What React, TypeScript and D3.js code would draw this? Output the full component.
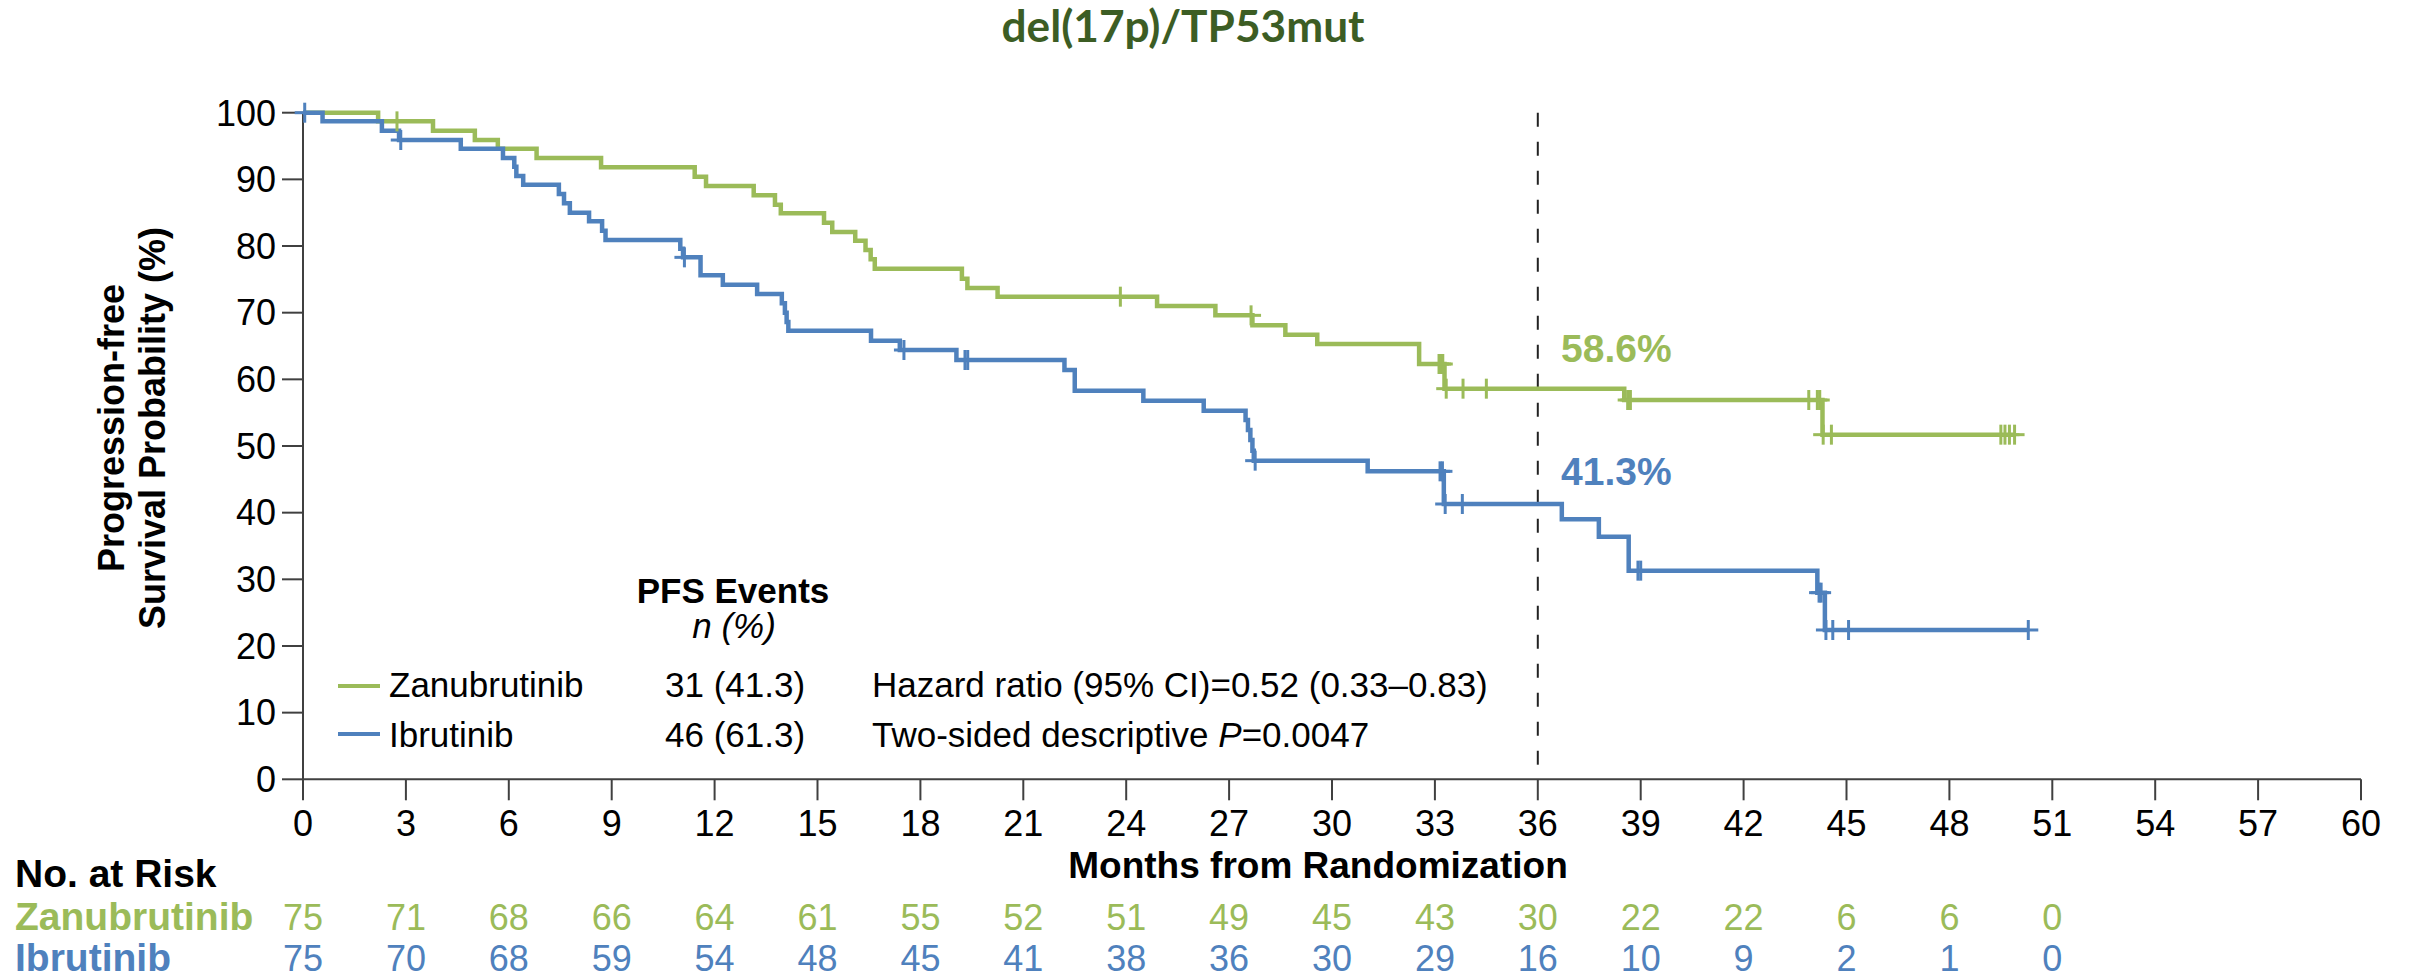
import React from "react";
import * as d3 from "d3";

// ---------- data ----------
const zanTimes = [0, 2.19, 3.79, 5.01, 5.68, 6.81, 8.69, 11.42, 11.75, 13.14, 13.76, 13.93, 15.19, 15.43, 16.1, 16.4, 16.55, 16.67, 19.21, 19.37, 20.25, 24.9, 26.6, 27.68, 28.64, 29.57, 32.54, 33.28, 38.52, 44.3];
const zanSurv = [100, 98.7, 97.3, 95.9, 94.6, 93.2, 91.8, 90.4, 89.0, 87.6, 86.2, 84.9, 83.5, 82.1, 80.8, 79.4, 78.0, 76.6, 75.1, 73.7, 72.4, 71.0, 69.6, 68.1, 66.7, 65.3, 62.3, 58.6, 56.9, 51.7];
const zanCensor = [2.74, 23.83, 27.64, 33.12, 33.18, 33.23, 33.33, 33.82, 34.5, 38.62, 38.7, 43.9, 44.15, 44.22, 44.32, 44.56, 49.5, 49.62, 49.75, 49.9];

const ibrTimes = [0, 0.57, 2.3, 2.8, 4.6, 5.83, 6.16, 6.22, 6.42, 7.46, 7.61, 7.78, 8.34, 8.72, 8.82, 11.0, 11.08, 11.59, 12.24, 13.24, 13.96, 14.05, 14.1, 14.15, 16.56, 17.4, 19.05, 22.2, 22.5, 24.5, 26.26, 27.48, 27.55, 27.62, 27.68, 27.72, 31.04, 33.26, 36.7, 37.78, 38.65, 44.15, 44.37];
const ibrSurv = [100, 98.7, 97.3, 95.9, 94.6, 93.2, 91.9, 90.5, 89.2, 87.8, 86.4, 85.0, 83.7, 82.3, 80.9, 79.6, 78.3, 75.6, 74.2, 72.8, 71.4, 70.0, 68.6, 67.3, 65.8, 64.4, 62.9, 61.4, 58.3, 56.8, 55.3, 53.9, 52.4, 50.9, 49.3, 47.8, 46.2, 41.3, 39.0, 36.4, 31.3, 28.0, 22.4];
const ibrCensor = [0.05, 2.85, 11.12, 17.52, 19.3, 19.38, 27.76, 33.15, 33.22, 33.3, 33.8, 38.92, 39.0, 44.2, 44.26, 44.4, 44.6, 45.06, 50.3];

const riskMonths = [0, 3, 6, 9, 12, 15, 18, 21, 24, 27, 30, 33, 36, 39, 42, 45, 48, 51];
const zanRisk = [75, 71, 68, 66, 64, 61, 55, 52, 51, 49, 45, 43, 30, 22, 22, 6, 6, 0];
const ibrRisk = [75, 70, 68, 59, 54, 48, 45, 41, 38, 36, 30, 29, 16, 10, 9, 2, 1, 0];

const xTicks = d3.range(0, 61, 3);
const yTicks = d3.range(0, 101, 10);

const GREEN = "#9BBB59";
const BLUE = "#4F81BD";
const AXIS = "#404040";
const FONT = "'Liberation Sans', Arial, Helvetica, sans-serif";

function stepAt(times: number[], surv: number[], t: number) {
  let v = surv[0];
  for (let i = 0; i < times.length; i++) if (times[i] <= t) v = surv[i];
  return v;
}

export default function App() {
  const x = d3.scaleLinear().domain([0, 60]).range([303, 2361]);
  const y = d3.scaleLinear().domain([0, 100]).range([779.3, 112.7]);

  const line = d3
    .line<[number, number]>()
    .x((d) => x(d[0]))
    .y((d) => y(d[1]))
    .curve(d3.curveStepAfter);

  const series = [
    { times: zanTimes, surv: zanSurv, censor: zanCensor, color: GREEN },
    { times: ibrTimes, surv: ibrSurv, censor: ibrCensor, color: BLUE },
  ];

  const paths = series.map((s) => {
    const pts: [number, number][] = s.times.map((t, i) => [t, s.surv[i]]);
    const end = Math.max(...s.censor, ...s.times);
    pts.push([end, stepAt(s.times, s.surv, end)]);
    return { d: line(pts) || "", color: s.color, s };
  });

  return (
    <div>
      <style>{`body{margin:0;}`}</style>
      <svg width={2410} height={978} style={{ display: "block", background: "#fff" }} fontFamily={FONT}>
        {/* title */}
        <text x={1183} y={42} textAnchor="middle" fontFamily="Lato, 'Open Sans', sans-serif" fontWeight={700} fontSize={44} fill="#3C5D24" textLength={363} lengthAdjust="spacingAndGlyphs">
          del(17p)/TP53mut
        </text>

        {/* y axis */}
        <line x1={x(0)} x2={x(0)} y1={y(100)} y2={y(0)} stroke={AXIS} strokeWidth={2} />
        {yTicks.map((t) => (
          <g key={"y" + t}>
            <line x1={x(0) - 21} x2={x(0)} y1={y(t)} y2={y(t)} stroke={AXIS} strokeWidth={2} />
            <text x={276} y={y(t) + 12.8} textAnchor="end" fontSize={36} fill="#000">
              {t}
            </text>
          </g>
        ))}
        {/* x axis */}
        <line x1={x(0)} x2={x(60)} y1={y(0)} y2={y(0)} stroke={AXIS} strokeWidth={2} />
        {xTicks.map((t) => (
          <g key={"x" + t}>
            <line x1={x(t)} x2={x(t)} y1={y(0)} y2={y(0) + 21} stroke={AXIS} strokeWidth={2} />
            <text x={x(t)} y={836} textAnchor="middle" fontSize={36} fill="#000">
              {t}
            </text>
          </g>
        ))}

        {/* axis titles */}
        <g fontWeight={700} fontSize={36} fill="#000">
          <text transform={`translate(124,428) rotate(-90)`} textAnchor="middle">
            Progression-free
          </text>
          <text transform={`translate(165,428) rotate(-90)`} textAnchor="middle">
            Survival Probability (%)
          </text>
        </g>
        <text x={1318} y={878} textAnchor="middle" fontWeight={700} fontSize={37} fill="#000">
          Months from Randomization
        </text>

        {/* 36-month reference */}
        <line x1={x(36)} x2={x(36)} y1={y(100)} y2={y(0)} stroke="#222" strokeWidth={2} strokeDasharray="14 15" />

        {/* curves */}
        {paths.map((p, i) => (
          <path key={"p" + i} d={p.d} fill="none" stroke={p.color} strokeWidth={4.5} />
        ))}
        {/* censor marks */}
        {paths.map((p, i) => (
          <g key={"c" + i} stroke={p.color} strokeWidth={3}>
            {p.s.censor.map((t, j) => {
              const cx = x(t);
              const cy = y(stepAt(p.s.times, p.s.surv, t));
              return (
                <g key={j}>
                  <line x1={cx} x2={cx} y1={cy - 10} y2={cy + 10} />
                  <line x1={cx - 10} x2={cx + 10} y1={cy} y2={cy} />
                </g>
              );
            })}
          </g>
        ))}

        {/* landmark labels */}
        <text x={1561} y={362} fontWeight={700} fontSize={39} fill={GREEN}>
          58.6%
        </text>
        <text x={1561} y={485} fontWeight={700} fontSize={39} fill={BLUE}>
          41.3%
        </text>

        {/* legend */}
        <text x={733} y={603} textAnchor="middle" fontWeight={700} fontSize={35} fill="#000">
          PFS Events
        </text>
        <text x={734} y={638} textAnchor="middle" fontStyle="italic" fontSize={35} fill="#000">
          n (%)
        </text>
        <line x1={338} x2={380} y1={686} y2={686} stroke={GREEN} strokeWidth={4} />
        <line x1={338} x2={380} y1={734} y2={734} stroke={BLUE} strokeWidth={4} />
        <g fontSize={35} fill="#000">
          <text x={389} y={697}>Zanubrutinib</text>
          <text x={665} y={697}>31 (41.3)</text>
          <text x={872} y={697}>Hazard ratio (95% CI)=0.52 (0.33–0.83)</text>
          <text x={389} y={747}>Ibrutinib</text>
          <text x={665} y={747}>46 (61.3)</text>
          <text x={872} y={747}>
            Two-sided descriptive <tspan fontStyle="italic">P</tspan>=0.0047
          </text>
        </g>

        {/* risk table */}
        <g fontWeight={700} fontSize={39}>
          <text x={15} y={887} fill="#000">No. at Risk</text>
          <text x={15} y={930} fill={GREEN}>Zanubrutinib</text>
          <text x={15} y={971} fill={BLUE}>Ibrutinib</text>
        </g>
        <g fontSize={36} textAnchor="middle">
          {riskMonths.map((m, i) => (
            <text key={"rz" + i} x={x(m)} y={930} fill={GREEN}>
              {zanRisk[i]}
            </text>
          ))}
          {riskMonths.map((m, i) => (
            <text key={"ri" + i} x={x(m)} y={971} fill={BLUE}>
              {ibrRisk[i]}
            </text>
          ))}
        </g>
      </svg>
    </div>
  );
}
